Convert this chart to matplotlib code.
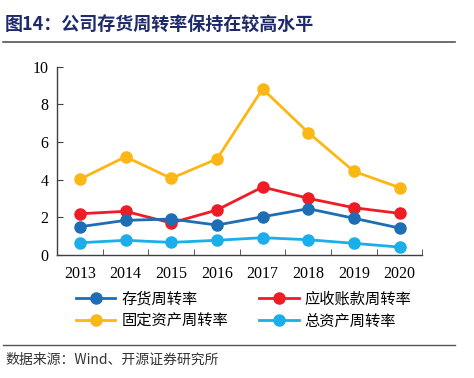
import matplotlib
matplotlib.use("Agg")
import matplotlib.pyplot as plt
from matplotlib.lines import Line2D

years = ["2013", "2014", "2015", "2016", "2017", "2018", "2019", "2020"]
inventory = [1.50, 1.84, 1.91, 1.59, 2.03, 2.46, 1.95, 1.43]
receivable = [2.19, 2.32, 1.70, 2.39, 3.61, 3.01, 2.51, 2.21]
fixed_asset = [4.02, 5.22, 4.07, 5.10, 8.82, 6.50, 4.44, 3.58]
total_asset = [0.65, 0.78, 0.67, 0.78, 0.92, 0.81, 0.62, 0.42]
names = ["存货周转率", "应收账款周转率", "固定资产周转率", "总资产周转率"]
colors = ["#1D6EB5", "#EE1C25", "#FBB714", "#1BAEE8"]

cjk = ["Noto Sans CJK SC", "DejaVu Sans"]
serif = ["Liberation Serif", "DejaVu Serif"]

fig = plt.figure(figsize=(4.74, 3.78), dpi=100)
ax = fig.add_axes([57/474, 1-255/378, (422.5-57)/474, (255-66.7)/378])

x = list(range(len(years)))
order = [fixed_asset, receivable, inventory, total_asset]
ocol = [colors[2], colors[1], colors[0], colors[3]]
for s, c in zip(order, ocol):
    ax.plot(x, s, color=c, lw=2.0, marker="o", ms=8, zorder=3)

ax.set_xlim(-0.5, len(years) - 0.5)
ax.set_ylim(0, 10)
ax.set_yticks([0, 2, 4, 6, 8, 10])
ax.set_yticklabels(["0", "2", "4", "6", "8", "10"], fontfamily=serif, fontsize=11.5)
ax.set_xticks(x)
ax.set_xticklabels(years, fontfamily=serif, fontsize=11.5)
ax.set_xticks([i + 0.5 for i in range(-1, len(years))], minor=True)
ax.tick_params(axis="x", which="major", length=0, pad=8)
ax.tick_params(axis="x", which="minor", direction="in", length=4, color="#404040")
ax.tick_params(axis="y", direction="in", length=4, color="#404040", pad=6)
for sp in ["top", "right"]:
    ax.spines[sp].set_visible(False)
for sp in ["left", "bottom"]:
    ax.spines[sp].set_color("#404040")
    ax.spines[sp].set_linewidth(1.0)

handles = [Line2D([0], [0], color=c, lw=2.0, marker="o", ms=8) for c in colors]
# column-wise fill: column 1 = inventory, fixed asset; column 2 = receivable, total asset
idx = [0, 2, 1, 3]
fig.legend([handles[i] for i in idx], [names[i] for i in idx], loc="upper left",
           bbox_to_anchor=(62/474, 1-277/378),
           ncol=2, frameon=False, prop={"family": cjk, "size": 11},
           handlelength=2.6, columnspacing=2.0, labelspacing=0.3, handletextpad=0.4)

fig.text(5/474, 1-24/378, "图14：公司存货周转率保持在较高水平", fontfamily=cjk,
         fontsize=13, fontweight="bold", color="#1F2A6B", va="center", ha="left")
fig.add_artist(Line2D([3/474, 455/474], [1-42/378, 1-42/378], color="#555555", lw=1.2))
fig.add_artist(Line2D([3/474, 455/474], [1-345/378, 1-345/378], color="#555555", lw=1.0))
fig.text(5/474, 1-360/378, "数据来源：Wind、开源证券研究所", fontfamily=cjk,
         fontsize=10, color="#333333", va="center", ha="left")

fig.savefig("out.png", dpi=100)
